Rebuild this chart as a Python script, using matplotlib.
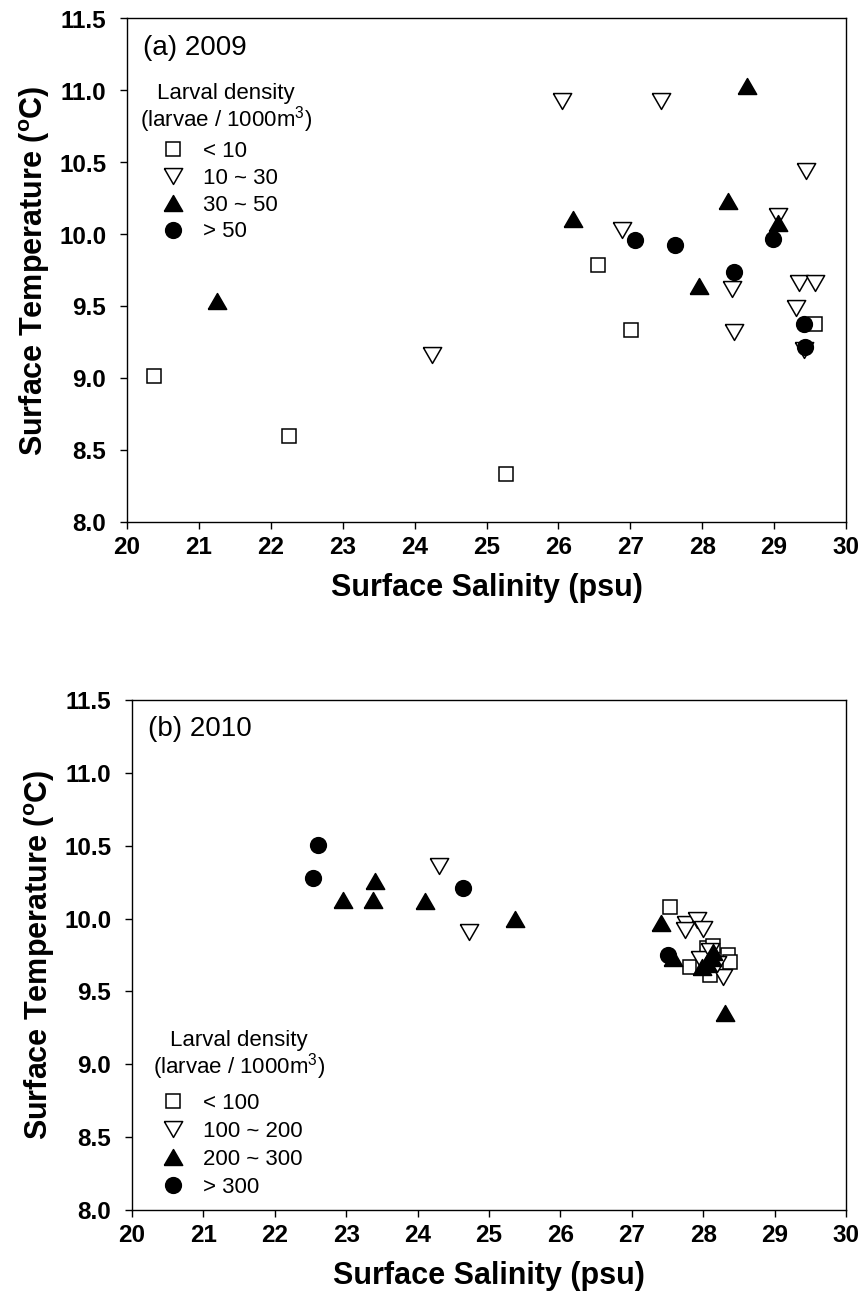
import matplotlib
matplotlib.use("Agg")
import matplotlib.pyplot as plt

plt.rcParams['font.family'] = ['Liberation Sans', 'DejaVu Sans']
plt.rcParams['mathtext.fontset'] = 'custom'
plt.rcParams['mathtext.rm'] = 'Liberation Sans'
plt.rcParams['mathtext.bf'] = 'Liberation Sans:bold'

# ---- 2009 survey: salinity (psu) / temperature (degC) by larval density class
a_sq_x = [20.38, 22.25, 25.27, 26.55, 27.01, 29.57]
a_sq_y = [9.02, 8.60, 8.34, 9.79, 9.34, 9.38]
a_dn_x = [24.24, 26.05, 27.43, 29.44, 29.05, 26.88, 28.42, 29.35, 29.57, 29.31, 28.44, 29.42]
a_dn_y = [9.16, 10.93, 10.93, 10.44, 10.13, 10.03, 9.62, 9.66, 9.66, 9.49, 9.32, 9.20]
a_up_x = [21.25, 28.63, 28.36, 29.06, 26.20, 27.96]
a_up_y = [9.54, 11.03, 10.23, 10.08, 10.11, 9.64]
a_ci_x = [27.06, 27.62, 28.98, 28.44, 29.41, 29.43]
a_ci_y = [9.96, 9.93, 9.97, 9.74, 9.38, 9.22]
a_labels = ["< 10", "10 ~ 30", "30 ~ 50", "> 50"]

# ---- 2010 survey
b_sq_x = [27.53, 27.81, 28.05, 28.14, 28.35, 28.37, 28.00, 28.10]
b_sq_y = [10.08, 9.67, 9.80, 9.81, 9.75, 9.70, 9.67, 9.61]
b_dn_x = [24.30, 24.72, 27.76, 27.92, 27.75, 28.00, 28.28, 28.19, 27.96, 28.10]
b_dn_y = [10.36, 9.91, 9.96, 9.99, 9.92, 9.93, 9.60, 9.69, 9.72, 9.78]
b_up_x = [23.40, 22.96, 23.37, 24.11, 25.36, 27.41, 27.58, 28.14, 28.05, 28.12, 27.98, 28.30]
b_up_y = [10.26, 10.13, 10.13, 10.12, 10.00, 9.97, 9.73, 9.77, 9.69, 9.73, 9.67, 9.35]
b_ci_x = [22.60, 22.53, 24.63, 27.51]
b_ci_y = [10.505, 10.28, 10.21, 9.75]
b_labels = ["< 100", "100 ~ 200", "200 ~ 300", "> 300"]

x_ticks = list(range(20, 31))
y_ticks = [8.0, 8.5, 9.0, 9.5, 10.0, 10.5, 11.0, 11.5]

W, H = 859, 1308
fig = plt.figure(figsize=(W / 100, H / 100), dpi=100)


def px_axes(left, top, right, bottom):
    return fig.add_axes([left / W, 1 - bottom / H, (right - left) / W, (bottom - top) / H])


ax_a = px_axes(127, 18.5, 846, 522.5)
ax_b = px_axes(132, 700, 846, 1210)

# equilateral triangles (pointing up / down)
TRI_UP = [(-1, -0.866), (1, -0.866), (0, 0.866), (-1, -0.866)]
TRI_DN = [(-1, 0.866), (1, 0.866), (0, -0.866), (-1, 0.866)]
MS_SQ, MS_TRI, MS_CI, MEW = 10.0, 13.2, 11.3, 1.1
FS_LEG = 16


def draw_panel(ax, sq, dn, up, ci, labels, tag, title_xy, leg_anchor, spacing):
    h1, = ax.plot(sq[0], sq[1], 's', ms=MS_SQ, mfc='white', mec='black', mew=MEW, ls='none')
    h2, = ax.plot(dn[0], dn[1], marker=TRI_DN, ms=MS_TRI, mfc='white', mec='black', mew=MEW, ls='none')
    h3, = ax.plot(up[0], up[1], marker=TRI_UP, ms=MS_TRI, mfc='black', mec='black', mew=MEW, ls='none')
    h4, = ax.plot(ci[0], ci[1], 'o', ms=MS_CI, mfc='black', mec='black', mew=MEW, ls='none')
    ax.set_xlim(20, 30)
    ax.set_ylim(8, 11.5)
    ax.set_xticks(x_ticks)
    ax.set_yticks(y_ticks)
    ax.set_xticklabels([str(t) for t in x_ticks], fontsize=17.5, fontweight='bold')
    ax.set_yticklabels([f"{t:.1f}" for t in y_ticks], fontsize=17.5, fontweight='bold')
    ax.tick_params(direction='out', length=5, width=1.0, top=False, right=False)
    ax.tick_params(axis='x', pad=5)
    ax.tick_params(axis='y', pad=10)
    for s in ax.spines.values():
        s.set_linewidth(1.0)
    ax.set_xlabel("Surface Salinity (psu)", fontsize=22, fontweight='bold', labelpad=10)
    ax.set_ylabel(r"Surface Temperature ($^{\mathregular{o}}$C)", fontsize=22,
                  fontweight='bold', labelpad=5)
    ax.text(0.022, 0.968, tag, transform=ax.transAxes, fontsize=20, ha='left', va='top')
    tx, ty1, ty2 = title_xy
    ax.text(tx, ty1, "Larval density", transform=ax.transAxes, fontsize=FS_LEG,
            ha='center', va='center')
    ax.text(tx, ty2, "(larvae / 1000m$^{3}$)", transform=ax.transAxes, fontsize=FS_LEG,
            ha='center', va='center')
    ax.legend([h1, h2, h3, h4], labels, loc='upper left', bbox_to_anchor=leg_anchor,
              frameon=False, fontsize=FS_LEG, handlelength=1.0, handletextpad=0.85,
              labelspacing=spacing, borderaxespad=0, borderpad=0)


draw_panel(ax_a, (a_sq_x, a_sq_y), (a_dn_x, a_dn_y), (a_up_x, a_up_y), (a_ci_x, a_ci_y),
           a_labels, "(a) 2009", (0.138, 0.852, 0.800), (0.049, 0.757), 0.26)
draw_panel(ax_b, (b_sq_x, b_sq_y), (b_dn_x, b_dn_y), (b_up_x, b_up_y), (b_ci_x, b_ci_y),
           b_labels, "(b) 2010", (0.150, 0.333, 0.281), (0.042, 0.230), 0.32)

fig.savefig("out.png", dpi=100)
